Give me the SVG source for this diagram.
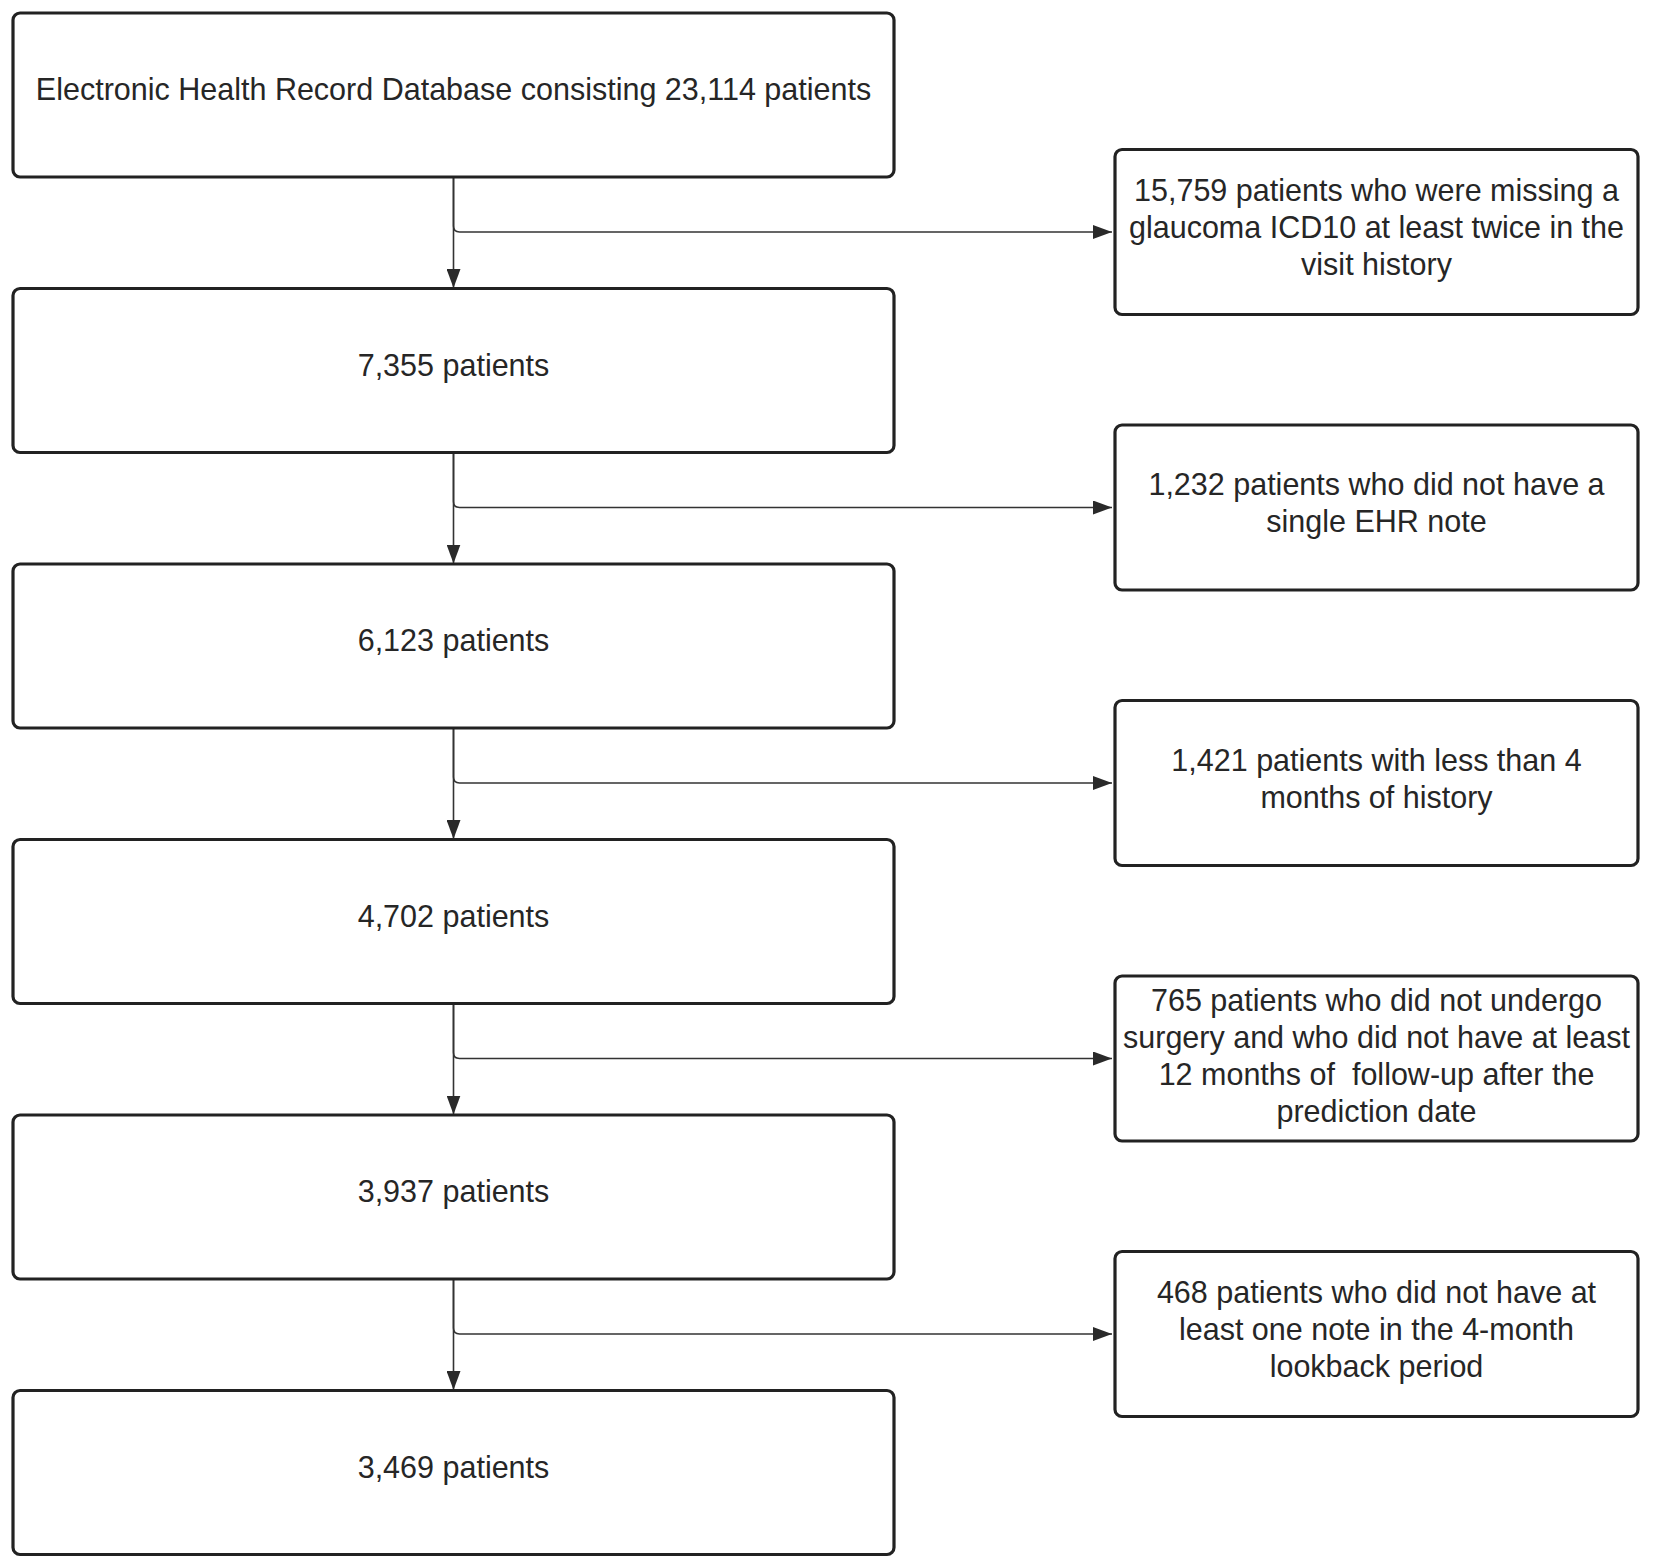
<svg xmlns="http://www.w3.org/2000/svg" width="1654" height="1566" viewBox="0 0 1654 1566">
<style>
.box{fill:#ffffff;stroke:#222222;stroke-width:3.2}
.t{font-family:"Liberation Sans",Arial,sans-serif;font-size:30.5px;fill:#262626;text-anchor:middle;white-space:pre}
.c{fill:none;stroke:#333333;stroke-width:1.6}
</style>
<defs>
<marker id="ah" markerUnits="userSpaceOnUse" markerWidth="19" markerHeight="14" refX="19" refY="7" orient="auto">
<path d="M0,0 L19,7 L0,14 z" fill="#2a2a2a"/>
</marker>
</defs>
<rect width="1654" height="1566" fill="#ffffff"/>
<g id="connectors">
<path class="c" d="M453.5,177 L453.5,288" marker-end="url(#ah)"/>
<path class="c" d="M453.5,177 L453.5,226 Q453.5,232 459.5,232 L1112,232" marker-end="url(#ah)"/>
<path class="c" d="M453.5,452.5 L453.5,563.5" marker-end="url(#ah)"/>
<path class="c" d="M453.5,452.5 L453.5,501.5 Q453.5,507.5 459.5,507.5 L1112,507.5" marker-end="url(#ah)"/>
<path class="c" d="M453.5,728 L453.5,839" marker-end="url(#ah)"/>
<path class="c" d="M453.5,728 L453.5,777 Q453.5,783 459.5,783 L1112,783" marker-end="url(#ah)"/>
<path class="c" d="M453.5,1003.5 L453.5,1114.5" marker-end="url(#ah)"/>
<path class="c" d="M453.5,1003.5 L453.5,1052.5 Q453.5,1058.5 459.5,1058.5 L1112,1058.5" marker-end="url(#ah)"/>
<path class="c" d="M453.5,1279 L453.5,1390" marker-end="url(#ah)"/>
<path class="c" d="M453.5,1279 L453.5,1328 Q453.5,1334 459.5,1334 L1112,1334" marker-end="url(#ah)"/>
</g>
<g id="n1"><rect class="box" x="13" y="13" width="881" height="164" rx="7"/><text class="t" x="453.5" y="100">Electronic Health Record Database consisting 23,114 patients</text></g>
<g id="n2"><rect class="box" x="13" y="288.5" width="881" height="164" rx="7"/><text class="t" x="453.5" y="375.5">7,355 patients</text></g>
<g id="n3"><rect class="box" x="13" y="564" width="881" height="164" rx="7"/><text class="t" x="453.5" y="651">6,123 patients</text></g>
<g id="n4"><rect class="box" x="13" y="839.5" width="881" height="164" rx="7"/><text class="t" x="453.5" y="926.5">4,702 patients</text></g>
<g id="n5"><rect class="box" x="13" y="1115" width="881" height="164" rx="7"/><text class="t" x="453.5" y="1202">3,937 patients</text></g>
<g id="n6"><rect class="box" x="13" y="1390.5" width="881" height="164" rx="7"/><text class="t" x="453.5" y="1477.5">3,469 patients</text></g>
<g id="e1"><rect class="box" x="1115" y="149.5" width="523" height="165" rx="7"/>
<text class="t" x="1376.5" y="200.5">15,759 patients who were missing a</text>
<text class="t" x="1376.5" y="237.5">glaucoma ICD10 at least twice in the</text>
<text class="t" x="1376.5" y="274.5">visit history</text></g>
<g id="e2"><rect class="box" x="1115" y="425" width="523" height="165" rx="7"/>
<text class="t" x="1376.5" y="495">1,232 patients who did not have a</text>
<text class="t" x="1376.5" y="532">single EHR note</text></g>
<g id="e3"><rect class="box" x="1115" y="700.5" width="523" height="165" rx="7"/>
<text class="t" x="1376.5" y="770.5">1,421 patients with less than 4</text>
<text class="t" x="1376.5" y="807.5">months of history</text></g>
<g id="e4"><rect class="box" x="1115" y="976" width="523" height="165" rx="7"/>
<text class="t" x="1376.5" y="1010.5">765 patients who did not undergo</text>
<text class="t" x="1376.5" y="1047.5">surgery and who did not have at least</text>
<text class="t" x="1376.5" y="1084.5">12 months of  follow-up after the</text>
<text class="t" x="1376.5" y="1121.5">prediction date</text></g>
<g id="e5"><rect class="box" x="1115" y="1251.5" width="523" height="165" rx="7"/>
<text class="t" x="1376.5" y="1303">468 patients who did not have at</text>
<text class="t" x="1376.5" y="1340">least one note in the 4-month</text>
<text class="t" x="1376.5" y="1377">lookback period</text></g>
</svg>
